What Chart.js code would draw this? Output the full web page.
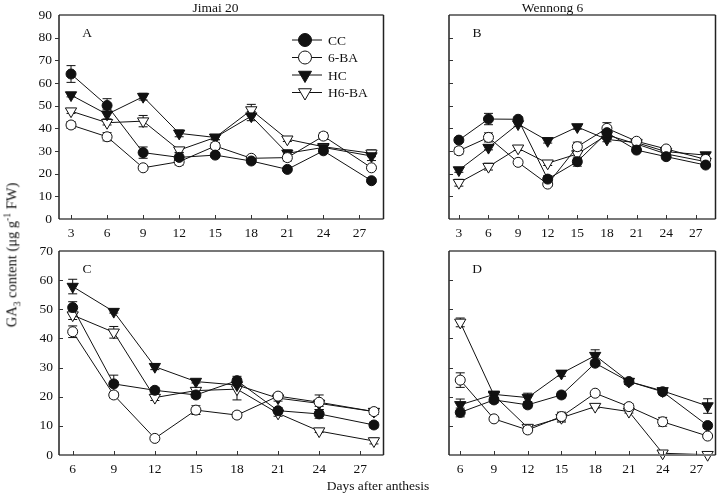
<!DOCTYPE html>
<html><head><meta charset="utf-8">
<script src="https://cdn.jsdelivr.net/npm/chart.js@4/dist/chart.umd.min.js"></script>
<style>
html,body{margin:0;padding:0;background:#fff;}
body{width:723px;height:502px;position:relative;overflow:hidden;font-family:"Liberation Serif","Times New Roman",serif;color:#111;}
.pane{position:absolute;}
.t{position:absolute;font-size:13.5px;white-space:nowrap;line-height:1;}
#ytitle{position:absolute;left:13px;top:255px;transform:translate(-50%,-50%) rotate(-90deg);font-size:14.5px;font-weight:normal;white-space:nowrap;line-height:1;}
#ytitle sub,#ytitle sup{font-size:9.5px;}
</style></head><body>
<div class="pane" style="left:0;top:0;width:391px;height:245px"><canvas id="cA"></canvas></div>
<div class="pane" style="left:390px;top:0;width:333px;height:245px"><canvas id="cB"></canvas></div>
<div class="pane" style="left:0;top:236px;width:391px;height:245px"><canvas id="cC"></canvas></div>
<div class="pane" style="left:390px;top:236px;width:333px;height:245px"><canvas id="cD"></canvas></div>
<div class="t" style="left:215.5px;top:1px;transform:translateX(-50%)">Jimai 20</div>
<div class="t" style="left:552.5px;top:1px;transform:translateX(-50%)">Wennong 6</div>
<div class="t" style="left:378px;top:479px;transform:translateX(-50%)">Days after anthesis</div>
<div id="ytitle">GA<sub>3</sub> content (μg g<sup>-1</sup> FW)</div>
<script>
// ---------- data ----------
const seriesNames = ['CC', '6-BA', 'HC', 'H6-BA'];
const daysTop = [3, 6, 9, 12, 15, 18, 21, 24, 28];
const daysBottom = [6, 9, 12, 15, 18, 21, 24, 28];
const xTickLabelsTop = [3, 6, 9, 12, 15, 18, 21, 24, 27];
const xTickLabelsBottom = [6, 9, 12, 15, 18, 21, 24, 27];
const yTickLabelsTop = [0, 10, 20, 30, 40, 50, 60, 70, 80, 90];
const yTickLabelsBottom = [0, 10, 20, 30, 40, 50, 60, 70];

// Panel A: Jimai 20, top
const A_CC    = [64.0, 50.1, 29.3, 27.2, 28.2, 25.6, 21.9, 30.1, 16.9];
const A_6BA   = [41.5, 36.3, 22.6, 25.3, 32.2, 26.8, 27.1, 36.6, 22.6];
const A_HC    = [54.7, 46.2, 54.0, 37.8, 36.0, 45.4, 29.0, 31.6, 27.8];
const A_H6BA  = [47.6, 42.5, 43.2, 30.4, 36.0, 48.1, 35.2, 31.9, 29.0];
const A_CC_err   = [3.7, 3.0, 2.5, 2.0, 1.0, 1.0, 0.6, 1.0, 1.0];
const A_6BA_err  = [1.5, 1.8, 0.8, 1.5, 1.5, 1.0, 1.5, 1.5, 1.0];
const A_HC_err   = [0.8, 2.0, 1.5, 1.5, 1.0, 2.0, 1.5, 1.0, 2.0];
const A_H6BA_err = [1.0, 1.0, 2.5, 1.0, 1.0, 2.5, 1.0, 1.0, 1.5];

// Panel B: Wennong 6, top
const B_CC    = [34.8, 44.1, 44.0, 17.6, 25.3, 38.1, 30.4, 27.5, 23.8];
const B_6BA   = [30.1, 36.0, 25.0, 15.4, 31.9, 40.0, 34.3, 30.9, 26.3];
const B_HC    = [21.6, 31.5, 41.9, 34.5, 40.6, 35.1, 33.7, 29.7, 28.2];
const B_H6BA  = [16.0, 23.1, 31.2, 24.6, 28.7, 37.1, 33.1, 28.7, 25.3];
const B_CC_err   = [1.0, 2.5, 1.0, 1.5, 2.0, 2.5, 1.0, 1.0, 1.0];
const B_6BA_err  = [1.5, 2.0, 0.8, 1.0, 2.0, 2.5, 1.0, 1.0, 1.0];
const B_HC_err   = [1.0, 1.0, 1.0, 1.0, 1.0, 1.0, 1.0, 1.0, 1.0];
const B_H6BA_err = [1.5, 1.5, 1.0, 1.0, 2.0, 2.0, 1.0, 1.0, 1.0];

// Panel C: Jimai 20, bottom
const C_CC    = [50.6, 24.4, 22.2, 20.6, 25.5, 15.2, 14.1, 10.3];
const C_6BA   = [42.3, 20.6, 5.7, 15.4, 13.7, 20.2, 18.1, 14.9];
const C_HC    = [57.8, 49.2, 30.3, 25.2, 24.0, 19.5, 17.7, 14.9];
const C_H6BA  = [48.0, 42.1, 19.7, 22.1, 22.6, 14.3, 8.2, 4.8];
const C_CC_err   = [2.0, 3.0, 1.0, 1.0, 1.5, 1.0, 1.5, 1.0];
const C_6BA_err  = [2.0, 1.0, 0.5, 1.5, 1.0, 1.0, 2.5, 1.0];
const C_HC_err   = [2.5, 0.5, 1.0, 0.5, 1.0, 1.0, 1.0, 1.0];
const C_H6BA_err = [1.5, 2.0, 1.0, 1.0, 3.7, 1.0, 0.5, 1.0];

// Panel D: Wennong 6, bottom
const D_CC    = [14.6, 18.9, 17.2, 20.6, 31.5, 25.2, 21.7, 10.1];
const D_6BA   = [25.7, 12.4, 8.6, 13.2, 21.2, 16.6, 11.4, 6.5];
const D_HC    = [17.2, 20.8, 19.7, 28.0, 34.1, 25.2, 22.0, 16.8];
const D_H6BA  = [45.5, 20.5, 9.4, 12.8, 16.6, 14.9, 0.6, 0.1];
const D_CC_err   = [1.5, 1.0, 1.0, 1.0, 1.0, 1.0, 1.0, 1.0];
const D_6BA_err  = [2.5, 0.5, 1.0, 1.5, 0.5, 1.0, 1.5, 0.5];
const D_HC_err   = [2.0, 1.0, 1.5, 1.0, 2.0, 1.0, 0.5, 2.5];
const D_H6BA_err = [1.5, 1.0, 0.5, 1.5, 0.5, 0.5, 0.3, 0.2];

// ---------- styling ----------
Chart.defaults.font.family = '"Liberation Serif", "Times New Roman", serif';
Chart.defaults.font.size = 13.5;
Chart.defaults.color = '#111';
const INK = '#111';
const markerStyles = [
  {pointStyle: 'circle', rotation: 0, bg: INK, r: 5},
  {pointStyle: 'circle', rotation: 0, bg: '#fff', r: 5},
  {pointStyle: 'triangle', rotation: 180, bg: INK, r: 6.5},
  {pointStyle: 'triangle', rotation: 180, bg: '#fff', r: 6.5}
];

function buildDatasets(days, vals, errs) {
  return vals.map((v, i) => {
    const m = markerStyles[i];
    return {
      label: seriesNames[i],
      data: days.map((d, j) => ({x: d, y: v[j]})),
      err: errs[i],
      borderColor: INK, borderWidth: 1,
      pointStyle: m.pointStyle, pointRotation: m.rotation,
      pointRadius: m.r, pointHoverRadius: m.r,
      pointBackgroundColor: m.bg, pointBorderColor: INK, pointBorderWidth: 1,
      tension: 0, clip: false, fill: false
    };
  });
}

const panelPlugin = {
  id: 'panel',
  beforeDatasetsDraw(chart) {
    const {ctx, scales: {x, y}} = chart;
    ctx.save();
    ctx.strokeStyle = INK; ctx.lineWidth = 1;
    chart.data.datasets.forEach(ds => {
      ds.data.forEach((p, j) => {
        const e = ds.err[j];
        if (!e) return;
        const px = x.getPixelForValue(p.x);
        const y1 = y.getPixelForValue(p.y + e), y2 = y.getPixelForValue(p.y - e);
        ctx.beginPath();
        ctx.moveTo(px, y1); ctx.lineTo(px, y2);
        ctx.moveTo(px - 4.5, y1); ctx.lineTo(px + 4.5, y1);
        ctx.moveTo(px - 4.5, y2); ctx.lineTo(px + 4.5, y2);
        ctx.stroke();
      });
    });
    ctx.restore();
  },
  afterDraw(chart, args, o) {
    const {ctx, chartArea: a, scales: {x, y}} = chart;
    ctx.save();
    // frame
    ctx.strokeStyle = '#777'; ctx.lineWidth = 2;
    ctx.beginPath();
    ctx.moveTo(a.left, a.top); ctx.lineTo(a.right, a.top);
    ctx.moveTo(a.left, a.bottom); ctx.lineTo(a.right, a.bottom);
    ctx.stroke();
    ctx.strokeStyle = '#222'; ctx.lineWidth = 1.5;
    ctx.beginPath();
    ctx.moveTo(a.left, a.top); ctx.lineTo(a.left, a.bottom);
    ctx.moveTo(a.right, a.top); ctx.lineTo(a.right, a.bottom);
    ctx.stroke();
    // ticks
    ctx.strokeStyle = '#333'; ctx.lineWidth = 1;
    ctx.beginPath();
    o.xTicks.forEach(v => {
      const px = Math.round(x.getPixelForValue(v)) + 0.5;
      ctx.moveTo(px, a.bottom); ctx.lineTo(px, a.bottom - 4);
    });
    o.yTicks.forEach(v => {
      if (v === o.yTicks[0] || v === o.yTicks[o.yTicks.length - 1]) return;
      const py = Math.round(y.getPixelForValue(v)) + 0.5;
      const dx = o.yOut ? -4 : 4;
      ctx.moveTo(a.left, py); ctx.lineTo(a.left + dx, py);
    });
    ctx.stroke();
    // panel letter
    ctx.fillStyle = INK;
    ctx.font = '13.5px "Liberation Serif", serif';
    ctx.textBaseline = 'middle';
    ctx.textAlign = 'center';
    ctx.fillText(o.letter, a.left + 28, a.top + 18);
    // legend
    if (o.legend) {
      const lx0 = 292, lx1 = 322, mx = 305, tx = 328;
      seriesNames.forEach((n, i) => {
        const ly = 40 + i * 17.5;
        const m = markerStyles[i];
        ctx.strokeStyle = INK; ctx.lineWidth = 1;
        ctx.beginPath(); ctx.moveTo(lx0, ly); ctx.lineTo(lx1, ly); ctx.stroke();
        ctx.fillStyle = m.bg; ctx.strokeStyle = INK;
        Chart.helpers.drawPoint(ctx, {pointStyle: m.pointStyle, rotation: m.rotation,
          radius: m.pointStyle === 'circle' ? 6.5 : 7.5, borderWidth: 1}, mx, ly);
        ctx.fillStyle = INK; ctx.textAlign = 'left';
        ctx.fillText(n, tx, ly + 1);
      });
    }
    ctx.restore();
  }
};

function makeChart(id, days, vals, errs, cfg) {
  new Chart(document.getElementById(id), {
    type: 'line',
    data: {datasets: buildDatasets(days, vals, errs)},
    options: {
      responsive: true, maintainAspectRatio: false, animation: false,
      events: [],
      layout: {padding: {top: 15, right: cfg.padRight, left: 0, bottom: 0}},
      plugins: {legend: {display: false}, tooltip: {enabled: false},
        panel: {letter: cfg.letter, xTicks: cfg.xTicks, yTicks: cfg.yTicks, yOut: cfg.yOut, legend: cfg.legend}},
      scales: {
        x: {
          type: 'linear', min: cfg.xmin, max: cfg.xmax,
          grid: {display: false, drawTicks: false}, border: {display: false},
          afterBuildTicks: s => { s.ticks = cfg.xTicks.map(v => ({value: v})); },
          afterFit: s => { s.height = 26; },
          ticks: {padding: 6, autoSkip: false, maxRotation: 0, callback: v => String(v)}
        },
        y: {
          type: 'linear', min: 0, max: cfg.ymax,
          display: cfg.showY,
          grid: {display: false, drawTicks: false}, border: {display: false},
          afterBuildTicks: s => { s.ticks = cfg.yTicks.map(v => ({value: v})); },
          afterFit: s => { s.width = 59; },
          ticks: {padding: cfg.yOut ? 7 : 6, callback: v => String(v)}
        }
      }
    },
    plugins: [panelPlugin]
  });
}

makeChart('cA', daysTop, [A_CC, A_6BA, A_HC, A_H6BA], [A_CC_err, A_6BA_err, A_HC_err, A_H6BA_err],
  {letter: 'A', xmin: 2, xmax: 29, ymax: 90, xTicks: xTickLabelsTop, yTicks: yTickLabelsTop, yOut: true, legend: true, showY: true, padRight: 1});
makeChart('cB', daysTop, [B_CC, B_6BA, B_HC, B_H6BA], [B_CC_err, B_6BA_err, B_HC_err, B_H6BA_err],
  {letter: 'B', xmin: 2, xmax: 29, ymax: 90, xTicks: xTickLabelsTop, yTicks: yTickLabelsTop, yOut: false, legend: false, showY: false, padRight: 3});
makeChart('cC', daysBottom, [C_CC, C_6BA, C_HC, C_H6BA], [C_CC_err, C_6BA_err, C_HC_err, C_H6BA_err],
  {letter: 'C', xmin: 5, xmax: 28.7, ymax: 70, xTicks: xTickLabelsBottom, yTicks: yTickLabelsBottom, yOut: false, legend: false, showY: true, padRight: 1});
makeChart('cD', daysBottom, [D_CC, D_6BA, D_HC, D_H6BA], [D_CC_err, D_6BA_err, D_HC_err, D_H6BA_err],
  {letter: 'D', xmin: 5, xmax: 28.7, ymax: 70, xTicks: xTickLabelsBottom, yTicks: yTickLabelsBottom, yOut: false, legend: false, showY: false, padRight: 3});
</script>
</body></html>
